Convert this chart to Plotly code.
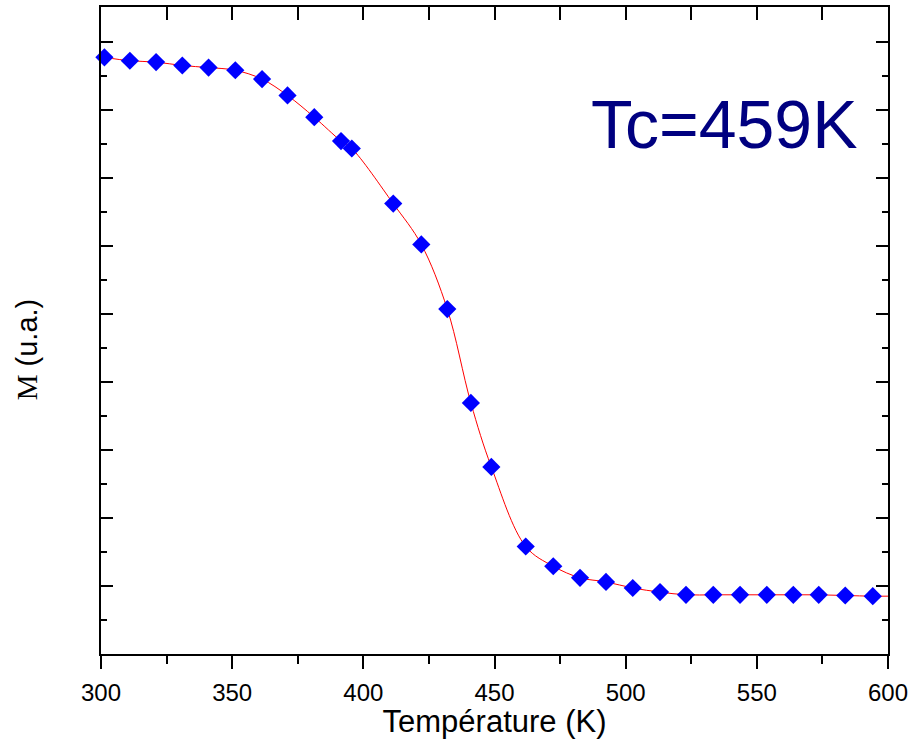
import plotly.graph_objects as go

# Data (magnetization, arbitrary units)
temperature_K = [301.3, 311.0, 321.0, 331.0, 341.0, 351.2, 361.4, 371.1, 381.3, 391.5,
                 395.6, 411.4, 422.1, 432.0, 441.0, 448.8, 461.9, 472.4, 482.6, 492.5,
                 502.7, 513.1, 523.0, 533.4, 543.6, 553.8, 563.9, 573.6, 583.7, 594.2]
magnetization = [8.77, 8.72, 8.70, 8.65, 8.62, 8.58, 8.45, 8.21, 7.89, 7.54,
                 7.43, 6.62, 6.02, 5.07, 3.69, 2.75, 1.58, 1.29, 1.12, 1.06,
                 0.97, 0.91, 0.87, 0.87, 0.87, 0.87, 0.87, 0.87, 0.86, 0.85]
# end point of the smooth guide curve at the right border
curve_end_T = 600.0
curve_end_M = 0.85

x_range = [300, 600.001]
y_range = [0, 9.51]
x_tick_vals = [300, 350, 400, 450, 500, 550, 600]
x_tick_text = ["300", "350", "400", "450", "500", "550", "600"]
tc_label = "Tc=459K"
y_title = "<span style='font-family:Liberation Serif, Times New Roman, serif'>M</span> (u.a.)"

fig = go.Figure()
fig.add_trace(go.Scatter(
    x=temperature_K + [curve_end_T], y=magnetization + [curve_end_M],
    mode="lines", line=dict(color="#FF0000", width=1, shape="spline", smoothing=1.0),
    showlegend=False, hoverinfo="skip", cliponaxis=True))
fig.add_trace(go.Scatter(
    x=temperature_K, y=magnetization, mode="markers",
    marker=dict(symbol="diamond", size=14, color="#0000FF", line=dict(width=0)),
    showlegend=False, cliponaxis=False))
# invisible trace to register the top axis
fig.add_trace(go.Scatter(x=x_range, y=y_range, xaxis="x2", mode="markers",
                         marker=dict(opacity=0), showlegend=False, hoverinfo="skip"))

axis_font = dict(family="Liberation Sans, Arial, sans-serif", color="black")

fig.update_layout(
    width=908, height=739,
    margin=dict(l=101, r=20, t=7, b=85),
    paper_bgcolor="white", plot_bgcolor="white",
    xaxis=dict(
        range=x_range, tickvals=x_tick_vals, ticktext=x_tick_text,
        ticks="outside", ticklen=13, tickwidth=2, tickcolor="black",
        showline=True, linewidth=2, linecolor="black", mirror=False,
        showgrid=False, zeroline=False, automargin=False,
        tickfont=dict(size=24, **axis_font), ticklabelstandoff=3,
        ticklabeloverflow="allow",
        minor=dict(dtick=25, tick0=300, ticks="outside", ticklen=8, tickwidth=2, tickcolor="black", showgrid=False),
        title=dict(text="Température (K)", font=dict(size=31, **axis_font), standoff=1),
    ),
    xaxis2=dict(
        range=x_range, overlaying="x", side="top", anchor="y",
        dtick=25, tick0=300, ticks="inside", ticklen=13, tickwidth=2, tickcolor="black",
        showline=True, linewidth=2, linecolor="black", showticklabels=False,
        showgrid=False, zeroline=False, automargin=False,
    ),
    yaxis=dict(
        range=y_range, dtick=1, tick0=0, showticklabels=False,
        ticks="inside", ticklen=12, tickwidth=2, tickcolor="black",
        showline=True, linewidth=2, linecolor="black", mirror="ticks",
        showgrid=False, zeroline=False, automargin=False,
        minor=dict(dtick=0.5, tick0=0, ticks="inside", ticklen=6, tickwidth=2, tickcolor="black", showgrid=False),
    ),
    annotations=[
        dict(text=tc_label, xref="paper", yref="paper", x=0.792, y=0.819,
             xanchor="center", yanchor="middle", showarrow=False,
             font=dict(size=68, family="Liberation Sans, Arial, sans-serif", color="#000080")),
        dict(text=y_title, xref="paper", yref="paper", x=-0.094, y=0.471,
             xanchor="center", yanchor="middle", showarrow=False, textangle=-90,
             font=dict(size=29, **axis_font)),
    ],
)

fig.write_html("out.html", config={"displayModeBar": False},
               post_script="document.body.style.margin='0';document.body.style.overflow='hidden';")
